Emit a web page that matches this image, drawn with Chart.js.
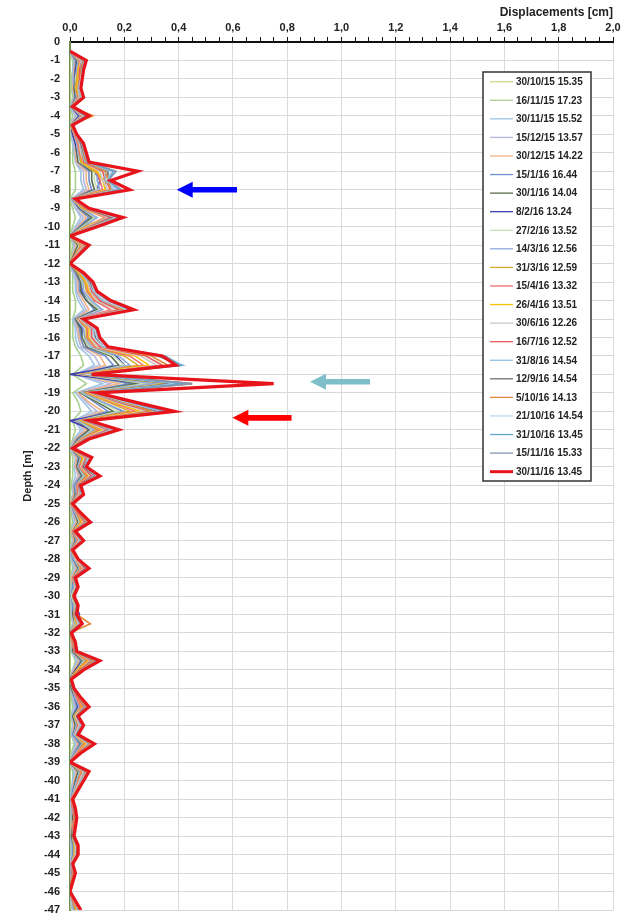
<!DOCTYPE html>
<html>
<head>
<meta charset="utf-8">
<script src="https://cdn.jsdelivr.net/npm/chart.js@4.4.1/dist/chart.umd.min.js"></script>
<style>
  html, body { margin: 0; padding: 0; background: #ffffff; }
  #wrap { width: 621px; height: 914px; }
</style>
</head>
<body>
<div id="wrap"><canvas id="c" width="621" height="914"></canvas></div>
<script>
// Reading depths (m)
const depths = [
  -0.5,-1,-1.5,-2,-2.5,-3,-3.5,-4,-4.5,-5,
  -5.5,-6,-6.5,-7,-7.5,-8,-8.5,-9,-9.5,-10,
  -10.5,-11,-11.5,-12,-12.5,-13,-13.5,-14,-14.5,-15,
  -15.5,-16,-16.5,-17,-17.5,-18,-18.5,-19,-19.5,-20,
  -20.5,-21,-21.5,-22,-22.5,-23,-23.5,-24,-24.5,-25,
  -25.5,-26,-26.5,-27,-27.5,-28,-28.5,-29,-29.5,-30,
  -30.5,-31,-31.5,-32,-32.5,-33,-33.5,-34,-34.5,-35,
  -35.5,-36,-36.5,-37,-37.5,-38,-38.5,-39,-39.5,-40,
  -40.5,-41,-41.5,-42,-42.5,-43,-43.5,-44,-44.5,-45,
  -45.5,-46,-46.5,-47
];

// Survey dates (legend)
const surveyLabels = [
  '30/10/15 15.35','16/11/15 17.23','30/11/15 15.52','15/12/15 13.57','30/12/15 14.22',
  '15/1/16 16.44','30/1/16 14.04','8/2/16 13.24','27/2/16 13.52','14/3/16 12.56',
  '31/3/16 12.59','15/4/16 13.32','26/4/16 13.51','30/6/16 12.26','16/7/16 12.52',
  '31/8/16 14.54','12/9/16 14.54','5/10/16 14.13','21/10/16 14.54','31/10/16 13.45',
  '15/11/16 15.33','30/11/16 13.45'
];

const surveyColors = [
  '#c9dc8f','#a9d18e','#9dc3e6','#b4b9dc','#f4b183',
  '#6f8fd0','#5b6b4a','#4040b0','#c5e0b4','#8faadc',
  '#d6ac2a','#f07070','#ffc000','#c8c8c8','#e85a5a',
  '#8fbfe0','#6e6e6e','#e08a3c','#bdd7ee','#5fa8d3',
  '#8497b0','#e8141c'
];

// Cumulative displacement (cm) per survey
const s01 = [
  0,0,0,0,0,0,0,0,0,0,
  0,0,0,0,0,0,0,0,0,0,
  0,0,0,0,0,0,0,0,0,0,
  0,0,0,0,0,0,0,0,0,0,
  0,0,0,0,0,0,0,0,0,0,
  0,0,0,0,0,0,0,0,0,0,
  0,0,0,0,0,0,0,0,0,0,
  0,0,0,0,0,0,0,0,0,0,
  0,0,0,0,0,0,0,0,0,0,
  0,0,0,0
];
const s02 = [
  0,.01,.01,.005,.005,.01,0,.01,0,.005,
  .01,.01,.01,.02,.02,.02,0,.01,.02,.01,
  0,.01,.005,0,.01,.01,.01,.02,.02,.01,
  .01,.01,.02,.04,.05,.01,.06,.01,.03,.04,
  .01,.02,.01,0,.01,.01,.01,.005,.01,0,
  .005,.01,0,.01,0,.005,.01,0,.005,0,
  .005,.005,.01,0,0,.005,.02,.01,0,0,
  .005,.01,.005,.01,.005,.015,.005,0,.01,.01,
  .005,0,.005,.005,0,0,.005,.005,0,0,
  0,0,.005,.005
];
const s03 = [
  0,.015,.01,.01,.01,.015,0,.02,0,.005,
  .01,.015,.02,.04,.04,.05,.005,.02,.04,.02,
  0,.015,.01,0,.01,.02,.02,.03,.05,.01,
  .02,.02,.03,.07,.09,.02,.12,.02,.05,.08,
  .015,.04,.015,0,.02,.015,.02,.01,.01,0,
  .01,.015,.005,.01,0,.005,.015,.005,.005,0,
  .005,.005,.01,0,.005,.005,.025,.01,0,0,
  .01,.015,.005,.01,.005,.02,.01,0,.015,.01,
  .005,0,.005,.005,.005,0,.005,.005,0,0,
  0,0,.005,.01
];
const s04 = [
  0,.015,.015,.01,.01,.015,.005,.02,0,.01,
  .015,.02,.02,.05,.05,.06,.005,.02,.05,.025,
  0,.02,.01,0,.015,.025,.025,.04,.06,.015,
  .025,.03,.04,.09,.11,.02,.15,.03,.06,.10,
  .02,.05,.02,0,.02,.02,.03,.01,.015,0,
  .01,.02,.005,.015,0,.01,.02,.005,.01,.005,
  .01,.005,.015,0,.005,.01,.03,.015,0,.005,
  .01,.02,.01,.015,.01,.025,.01,0,.02,.015,
  .01,0,.005,.01,.005,.005,.01,.01,0,.005,
  0,0,.005,.01
];
const s05 = [
  0,.02,.015,.015,.01,.02,.005,.03,0,.01,
  .02,.02,.025,.06,.06,.07,.01,.03,.06,.03,
  0,.025,.01,0,.02,.03,.03,.05,.07,.02,
  .03,.035,.05,.11,.13,.03,.18,.03,.07,.12,
  .02,.06,.02,.005,.025,.02,.035,.015,.015,0,
  .015,.025,.005,.015,.005,.01,.025,.005,.01,.005,
  .01,.01,.015,0,.005,.01,.035,.015,0,.005,
  .015,.025,.01,.015,.01,.03,.015,0,.025,.015,
  .01,.005,.01,.01,.005,.005,.01,.01,.005,.005,
  0,0,.01,.015
];
const s06 = [
  0,.02,.02,.015,.015,.02,.005,.03,.005,.01,
  .02,.025,.03,.07,.07,.08,.01,.03,.07,.035,
  0,.03,.015,0,.02,.035,.035,.06,.09,.02,
  .035,.04,.05,.13,.16,.03,.22,.04,.09,.14,
  .025,.07,.025,.005,.03,.025,.04,.015,.02,.005,
  .015,.03,.01,.02,.005,.01,.03,.01,.01,.005,
  .01,.01,.02,0,.01,.01,.04,.02,0,.005,
  .015,.025,.01,.02,.01,.035,.015,0,.03,.02,
  .01,.005,.01,.01,.01,.005,.01,.01,.005,.005,
  .005,0,.01,.015
];
const s07 = [
  0,.025,.02,.02,.015,.02,.005,.035,.005,.01,
  .02,.025,.03,.08,.08,.09,.01,.035,.08,.04,
  0,.03,.015,0,.025,.04,.04,.06,.10,.02,
  .04,.045,.06,.15,.18,.03,.25,.04,.10,.16,
  .03,.07,.03,.005,.035,.025,.045,.02,.02,.005,
  .02,.03,.01,.02,.005,.015,.03,.01,.015,.005,
  .015,.01,.02,0,.01,.01,.045,.02,0,.005,
  .02,.03,.01,.02,.015,.04,.02,0,.03,.02,
  .015,.005,.01,.01,.01,.005,.015,.015,.005,.01,
  .005,0,.01,.02
];
const s08 = [
  0,.03,.02,.02,.02,.025,.005,.035,.005,.01,
  .02,.03,.035,.09,.11,.10,.01,.04,.09,.045,
  0,.07,.02,0,.03,.045,.045,.07,.11,.025,
  .045,.05,.07,.17,.20,0,.29,.05,.12,.195,
  0,.08,.035,.005,.04,.03,.05,.02,.025,.005,
  .02,.08,.01,.025,.01,.015,.035,.01,.015,.005,
  .02,.035,.02,0,.01,.015,.05,.02,0,.01,
  .02,.03,.015,.025,.015,.045,.02,0,.035,.025,
  .015,.005,.01,.015,.01,.01,.015,.015,.005,.01,
  .005,0,.01,.02
];
const s09 = [
  0,.03,.025,.02,.02,.025,.005,.04,.005,.015,
  .025,.03,.035,.09,.09,.10,.01,.04,.09,.045,
  0,.035,.02,0,.03,.045,.05,.07,.11,.025,
  .05,.05,.07,.16,.20,.04,.28,.045,.11,.18,
  .03,.08,.035,.005,.04,.03,.05,.02,.025,.005,
  .02,.035,.01,.025,.005,.015,.035,.01,.015,.005,
  .015,.015,.02,0,.01,.015,.05,.025,0,.01,
  .02,.035,.015,.025,.015,.045,.02,0,.035,.025,
  .015,.005,.01,.015,.01,.01,.015,.015,.005,.01,
  .005,0,.01,.02
];
const s10 = [
  0,.03,.025,.025,.02,.025,.005,.04,.005,.015,
  .025,.03,.04,.10,.10,.11,.01,.04,.10,.05,
  0,.04,.02,0,.03,.05,.05,.08,.12,.03,
  .05,.055,.08,.18,.22,.04,.31,.05,.12,.20,
  .035,.09,.035,.005,.04,.03,.055,.02,.025,.005,
  .02,.04,.01,.025,.005,.015,.035,.01,.015,.01,
  .015,.015,.025,0,.01,.015,.055,.025,0,.01,
  .02,.035,.015,.025,.015,.045,.02,0,.035,.025,
  .015,.005,.01,.015,.01,.01,.015,.015,.005,.01,
  .005,0,.01,.02
];
const s11 = [
  0,.035,.03,.025,.02,.03,.005,.045,.005,.015,
  .03,.035,.04,.09,.13,.13,.01,.045,.13,.055,
  0,.04,.02,0,.03,.055,.06,.09,.18,.03,
  .06,.06,.09,.20,.25,.04,.36,.06,.14,.22,
  .04,.10,.04,.005,.045,.035,.06,.025,.03,.005,
  .025,.04,.01,.03,.005,.02,.04,.01,.02,.01,
  .02,.015,.025,0,.01,.015,.06,.025,0,.01,
  .025,.04,.015,.03,.02,.05,.025,0,.04,.03,
  .02,.005,.01,.015,.01,.01,.015,.015,.005,.01,
  .005,0,.01,.02
];
const s12 = [
  0,.035,.03,.03,.025,.03,.005,.045,.005,.015,
  .03,.035,.045,.10,.11,.12,.01,.05,.13,.06,
  0,.045,.02,0,.035,.06,.065,.09,.15,.03,
  .065,.065,.09,.22,.27,.05,.40,.065,.15,.24,
  .045,.11,.045,.005,.05,.035,.065,.025,.03,.005,
  .025,.045,.01,.03,.005,.02,.045,.01,.02,.01,
  .02,.015,.03,0,.01,.015,.065,.03,0,.01,
  .025,.04,.02,.03,.02,.055,.025,0,.045,.03,
  .02,.005,.01,.015,.01,.01,.02,.02,.005,.01,
  .005,0,.01,.025
];
const s13 = [
  0,.04,.03,.03,.025,.035,.005,.05,.005,.02,
  .035,.04,.045,.10,.12,.13,.01,.05,.14,.06,
  0,.05,.025,0,.035,.06,.07,.10,.19,.035,
  .07,.07,.10,.24,.29,.05,.42,.07,.16,.26,
  .045,.12,.05,.005,.05,.04,.07,.03,.035,.005,
  .03,.045,.015,.035,.005,.02,.05,.015,.02,.01,
  .02,.02,.03,0,.015,.02,.07,.03,0,.01,
  .03,.045,.02,.035,.02,.06,.03,0,.05,.035,
  .02,.01,.015,.02,.015,.01,.02,.02,.005,.015,
  .005,0,.015,.025
];
const s14 = [
  0,.04,.035,.035,.03,.035,.005,.05,.005,.02,
  .035,.04,.05,.11,.12,.14,.01,.055,.14,.065,
  0,.05,.025,0,.04,.065,.075,.10,.17,.035,
  .075,.075,.10,.26,.32,.05,.45,.075,.17,.28,
  .05,.13,.05,.005,.055,.04,.075,.03,.035,.005,
  .03,.05,.015,.035,.005,.02,.05,.015,.02,.01,
  .02,.02,.03,0,.015,.02,.075,.035,0,.01,
  .03,.05,.02,.035,.02,.065,.03,0,.05,.035,
  .02,.01,.015,.02,.015,.01,.02,.02,.005,.015,
  .005,0,.015,.03
];
const s15 = [
  0,.045,.035,.035,.03,.04,.005,.055,.005,.02,
  .04,.045,.05,.12,.13,.15,.01,.055,.15,.07,
  0,.055,.03,0,.04,.07,.08,.11,.18,.04,
  .08,.08,.11,.28,.34,.06,.43,.08,.18,.30,
  .055,.14,.055,.005,.06,.045,.08,.03,.04,.005,
  .03,.055,.015,.04,.005,.025,.055,.015,.025,.01,
  .025,.02,.035,0,.015,.02,.08,.035,0,.01,
  .03,.05,.025,.04,.025,.07,.03,0,.055,.04,
  .025,.01,.015,.02,.015,.01,.025,.025,.005,.015,
  .005,0,.015,.03
];
const s16 = [
  0,.045,.04,.04,.03,.04,.005,.055,.005,.02,
  .04,.045,.055,.13,.13,.16,.01,.06,.16,.075,
  0,.06,.03,0,.04,.07,.085,.12,.20,.04,
  .085,.09,.12,.32,.415,.06,.40,.085,.19,.32,
  .055,.15,.06,.005,.065,.05,.09,.035,.04,.005,
  .035,.06,.015,.04,.005,.025,.06,.015,.025,.01,
  .025,.02,.035,0,.015,.02,.085,.04,0,.01,
  .035,.055,.025,.04,.025,.07,.035,0,.055,.04,
  .025,.01,.015,.02,.015,.01,.025,.025,.005,.015,
  .005,0,.015,.03
];
const s17 = [
  0,.05,.04,.04,.035,.045,.005,.06,.005,.02,
  .04,.05,.06,.14,.14,.17,.015,.06,.16,.08,
  0,.06,.03,0,.045,.075,.09,.13,.21,.045,
  .09,.095,.13,.33,.40,.065,.38,.09,.20,.33,
  .06,.16,.06,.005,.07,.05,.095,.035,.045,.005,
  .035,.065,.015,.045,.005,.025,.06,.015,.025,.01,
  .025,.02,.04,0,.015,.02,.09,.04,0,.01,
  .035,.06,.025,.045,.025,.075,.035,0,.06,.045,
  .025,.01,.015,.02,.015,.01,.025,.025,.01,.015,
  .005,0,.015,.035
];
const s18 = [
  0,.05,.04,.04,.035,.045,.005,.085,.005,.02,
  .045,.05,.06,.13,.14,.15,.015,.06,.17,.08,
  0,.06,.03,0,.045,.08,.09,.13,.20,.045,
  .09,.10,.13,.30,.36,.06,.45,.09,.20,.30,
  .06,.16,.065,.005,.07,.055,.10,.04,.045,.005,
  .035,.065,.02,.045,.005,.025,.065,.02,.03,.01,
  .03,.025,.075,0,.015,.025,.09,.04,0,.015,
  .035,.06,.03,.045,.03,.075,.035,0,.06,.045,
  .025,.01,.02,.02,.015,.015,.025,.03,.01,.015,
  .005,0,.015,.035
];
const s19 = [
  0,.055,.045,.04,.035,.045,.01,.065,.01,.02,
  .045,.055,.065,.15,.14,.17,.015,.065,.17,.085,
  0,.065,.03,0,.045,.08,.09,.13,.21,.045,
  .09,.10,.13,.34,.40,.07,.40,.09,.21,.34,
  .065,.16,.065,.01,.07,.055,.10,.04,.045,.01,
  .04,.07,.02,.045,.01,.025,.065,.02,.03,.015,
  .03,.025,.04,.005,.02,.025,.10,.045,.005,.015,
  .04,.065,.03,.045,.03,.08,.04,0,.065,.045,
  .03,.01,.02,.025,.02,.015,.03,.03,.01,.02,
  .01,0,.02,.035
];
const s20 = [
  0,.055,.045,.045,.04,.05,.01,.065,.01,.025,
  .045,.055,.065,.16,.14,.18,.02,.065,.18,.09,
  0,.065,.035,0,.05,.08,.095,.14,.22,.05,
  .095,.105,.135,.35,.41,.075,.42,.095,.22,.35,
  .065,.17,.065,.01,.075,.055,.105,.04,.05,.01,
  .04,.07,.02,.05,.01,.03,.065,.02,.03,.015,
  .03,.025,.045,.005,.02,.025,.10,.045,.005,.015,
  .04,.065,.03,.05,.03,.085,.04,0,.065,.05,
  .03,.01,.02,.025,.02,.015,.03,.03,.01,.02,
  .01,0,.02,.04
];
const s21 = [
  0,.06,.05,.045,.04,.05,.01,.07,.01,.025,
  .05,.06,.07,.17,.14,.19,.02,.07,.18,.095,
  0,.07,.035,0,.05,.085,.10,.145,.23,.05,
  .10,.11,.14,.35,.40,.08,.45,.10,.23,.36,
  .07,.17,.07,.01,.08,.06,.11,.04,.05,.01,
  .04,.075,.02,.05,.01,.03,.07,.02,.03,.015,
  .03,.025,.045,.005,.02,.025,.105,.05,.005,.015,
  .04,.07,.03,.05,.03,.09,.04,0,.07,.05,
  .03,.01,.02,.025,.02,.015,.03,.03,.01,.02,
  .01,0,.02,.04
];
const s22 = [
  0,.06,.05,.045,.04,.05,.01,.07,.01,.025,
  .05,.06,.07,.25,.15,.22,.02,.07,.195,.10,
  0,.07,.035,0,.05,.085,.10,.15,.235,.05,
  .10,.11,.14,.34,.39,.08,.75,.10,.24,.385,
  .07,.18,.07,.01,.08,.06,.11,.04,.05,.01,
  .04,.075,.02,.05,.01,.03,.07,.02,.03,.015,
  .03,.025,.045,.005,.02,.025,.11,.05,.005,.015,
  .04,.07,.03,.05,.03,.09,.04,0,.07,.05,
  .03,.01,.02,.025,.02,.015,.03,.03,.01,.02,
  .01,0,.02,.04
];

const surveyValues = [s01,s02,s03,s04,s05,s06,s07,s08,s09,s10,s11,s12,s13,s14,s15,s16,s17,s18,s19,s20,s21,s22];

// Marker arrows: depth (m), tail and tip displacement (cm), colour
const arrowDepths = [-8, -18.4, -20.35];
const arrowTails  = [0.615, 1.105, 0.816];
const arrowTips   = [0.393, 0.884, 0.598];
const arrowColors = ['#0000ff', '#7fbfca', '#ff0000'];

const lastIdx = surveyValues.length - 1;
const datasets = surveyValues.map((vals, i) => ({
  label: surveyLabels[i],
  data: depths.map((d, k) => ({ x: vals[k], y: d })),
  borderColor: surveyColors[i],
  backgroundColor: surveyColors[i],
  borderWidth: i === lastIdx ? 3.2 : 1.6,
  pointRadius: 0,
  tension: 0,
  fill: false,
  order: i === lastIdx ? 0 : surveyValues.length - i
}));

const isMajor = v => Math.abs(v * 5 - Math.round(v * 5)) < 1e-6;

const arrowPlugin = {
  id: 'arrows',
  afterDatasetsDraw(chart) {
    const { ctx, scales: { x, y } } = chart;
    ctx.save();
    arrowDepths.forEach((d, i) => {
      const py = y.getPixelForValue(d);
      const tail = x.getPixelForValue(arrowTails[i]);
      const tip = x.getPixelForValue(arrowTips[i]);
      const headLen = 16, headHalf = 8, shaftHalf = 2.8;
      ctx.fillStyle = arrowColors[i];
      ctx.beginPath();
      ctx.moveTo(tip, py);
      ctx.lineTo(tip + headLen, py - headHalf);
      ctx.lineTo(tip + headLen, py - shaftHalf);
      ctx.lineTo(tail, py - shaftHalf);
      ctx.lineTo(tail, py + shaftHalf);
      ctx.lineTo(tip + headLen, py + shaftHalf);
      ctx.lineTo(tip + headLen, py + headHalf);
      ctx.closePath();
      ctx.fill();
    });
    ctx.restore();
  }
};

const boxLegendPlugin = {
  id: 'boxLegend',
  afterDraw(chart) {
    const { ctx } = chart;
    const left = 483, top = 72, width = 108, height = 409;
    const firstY = 81.7, step = 18.57;
    ctx.save();
    ctx.fillStyle = '#ffffff';
    ctx.fillRect(left, top, width, height);
    ctx.strokeStyle = '#333333';
    ctx.lineWidth = 1.5;
    ctx.strokeRect(left, top, width, height);
    ctx.font = 'bold 10px "Liberation Sans", Arial, sans-serif';
    ctx.textBaseline = 'middle';
    ctx.textAlign = 'left';
    surveyLabels.forEach((lab, i) => {
      const yy = firstY + i * step;
      ctx.strokeStyle = surveyColors[i];
      ctx.lineWidth = i === lastIdx ? 3 : 1.3;
      ctx.beginPath();
      ctx.moveTo(490, yy);
      ctx.lineTo(513, yy);
      ctx.stroke();
      ctx.fillStyle = '#222222';
      ctx.fillText(lab, 516, yy + 0.5);
    });
    ctx.restore();
  }
};

const tickFont = { family: '"Liberation Sans", Arial, sans-serif', size: 11, weight: 'bold' };

new Chart(document.getElementById('c'), {
  type: 'line',
  data: { datasets },
  options: {
    responsive: false,
    animation: false,
    indexAxis: 'y',
    layout: { padding: { top: 0, right: 8, bottom: 4, left: 0 } },
    plugins: { legend: { display: false }, tooltip: { enabled: false } },
    scales: {
      x: {
        type: 'linear',
        position: 'top',
        min: 0,
        max: 2,
        ticks: {
          stepSize: 0.05,
          autoSkip: false,
          maxRotation: 0,
          padding: 2,
          color: '#222222',
          font: tickFont,
          callback: v => isMajor(v) ? v.toFixed(1).replace('.', ',') : ''
        },
        grid: {
          color: c => (c.tick && isMajor(c.tick.value)) ? '#dadada' : 'rgba(0,0,0,0)',
          tickColor: '#111111',
          tickLength: 5,
          lineWidth: 1
        },
        border: { color: '#111111', width: 2 },
        title: {
          display: true,
          text: 'Displacements [cm]',
          align: 'end',
          color: '#222222',
          font: { family: '"Liberation Sans", Arial, sans-serif', size: 12, weight: 'bold' },
          padding: { top: 5, bottom: 2 }
        },
        afterFit: s => { s.height = 42; s.paddingLeft = 0; s.paddingRight = 0; }
      },
      y: {
        type: 'linear',
        min: -47,
        max: 0,
        ticks: {
          stepSize: 1,
          autoSkip: false,
          padding: 10,
          color: '#222222',
          font: tickFont
        },
        grid: { color: '#d8d8d8', drawTicks: false, lineWidth: 1 },
        border: { color: '#6d8b4f', width: 2 },
        title: {
          display: true,
          text: 'Depth [m]',
          color: '#222222',
          font: tickFont,
          padding: { top: 21, bottom: 0 }
        },
        afterFit: s => { s.width = 70; s.paddingTop = 0; s.paddingBottom = 0; }
      }
    }
  },
  plugins: [arrowPlugin, boxLegendPlugin]
});
</script>
</body>
</html>
